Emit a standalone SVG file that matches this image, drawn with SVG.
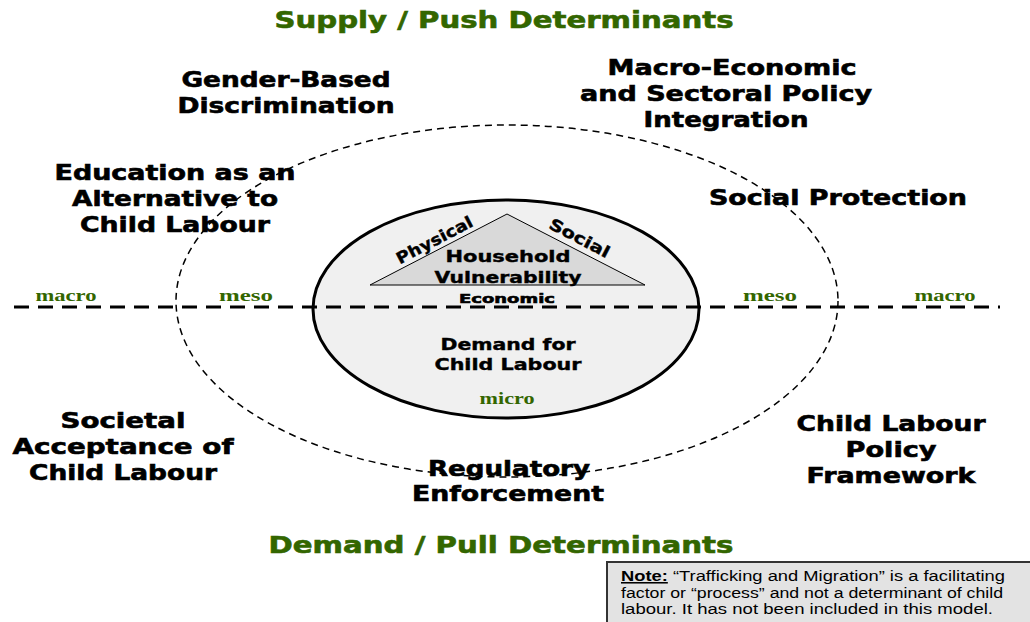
<svg xmlns="http://www.w3.org/2000/svg" width="1030" height="622" viewBox="0 0 1030 622">
<style>
.t{font-family:"DejaVu Sans","Liberation Sans",sans-serif;font-weight:bold;fill:#000;text-anchor:middle;stroke:#000;stroke-width:0.6}
.lbl{font-size:21px}
.title{font-size:23px;fill:#336600;stroke:#336600}
.inner{font-size:16px;stroke-width:0.4}
.lvl{font-family:"Liberation Serif","DejaVu Serif",serif;font-weight:bold;font-size:17px;fill:#336600;text-anchor:middle}
.note{font-family:"Liberation Sans",Arial,sans-serif;font-size:15.5px;fill:#000}
</style>
<rect width="1030" height="622" fill="#fff"/>
<g id="outer-ellipse">
<ellipse cx="507" cy="301" rx="331" ry="176" fill="none" stroke="#000" stroke-width="1.5" stroke-dasharray="7 5"/>
</g>
<g id="household">
<ellipse cx="506" cy="309" rx="193" ry="109" fill="#f0f0f0" stroke="#000" stroke-width="3"/>
<polygon points="370,285 507,214 645,285" fill="#d9d9d9" stroke="#000" stroke-width="1"/>
<text class="t inner" transform="translate(437,245) rotate(-27.5)" textLength="84" lengthAdjust="spacingAndGlyphs">Physical</text>
<text class="t inner" transform="translate(577,243) rotate(27.5)" textLength="66" lengthAdjust="spacingAndGlyphs">Social</text>
<text class="t inner" x="508" y="262" textLength="125" lengthAdjust="spacingAndGlyphs">Household</text>
<text class="t inner" x="508" y="283" textLength="147" lengthAdjust="spacingAndGlyphs">Vulnerability</text>
<text class="t" font-size="13" stroke-width="0.3" x="507" y="303" textLength="96" lengthAdjust="spacingAndGlyphs">Economic</text>
<text class="t inner" x="508" y="350" textLength="135" lengthAdjust="spacingAndGlyphs">Demand for</text>
<text class="t inner" x="508" y="370" textLength="147" lengthAdjust="spacingAndGlyphs">Child Labour</text>
</g>
<g id="connectors">
<line x1="14" y1="307" x2="1000" y2="307" stroke="#000" stroke-width="3" stroke-dasharray="15 9"/>
</g>
<g id="levels">
<text class="lvl" x="66" y="301" textLength="61" lengthAdjust="spacingAndGlyphs">macro</text>
<text class="lvl" x="246" y="301" textLength="54" lengthAdjust="spacingAndGlyphs">meso</text>
<text class="lvl" x="770" y="301" textLength="54" lengthAdjust="spacingAndGlyphs">meso</text>
<text class="lvl" x="945" y="301" textLength="61" lengthAdjust="spacingAndGlyphs">macro</text>
<text class="lvl" x="507" y="404" textLength="55" lengthAdjust="spacingAndGlyphs">micro</text>
</g>
<g id="titles">
<text class="t title" x="504" y="28" textLength="459" lengthAdjust="spacingAndGlyphs">Supply / Push Determinants</text>
<text class="t title" x="501" y="553" textLength="465" lengthAdjust="spacingAndGlyphs">Demand / Pull Determinants</text>
</g>
<g id="gender">
<text class="t lbl" x="286" y="87" textLength="209" lengthAdjust="spacingAndGlyphs">Gender-Based</text>
<text class="t lbl" x="286" y="113" textLength="217" lengthAdjust="spacingAndGlyphs">Discrimination</text>
</g>
<g id="macroeconomic">
<text class="t lbl" x="732" y="75" textLength="249" lengthAdjust="spacingAndGlyphs">Macro-Economic</text>
<text class="t lbl" x="726" y="101" textLength="292" lengthAdjust="spacingAndGlyphs">and Sectoral Policy</text>
<text class="t lbl" x="726" y="127" textLength="165" lengthAdjust="spacingAndGlyphs">Integration</text>
</g>
<g id="education">
<text class="t lbl" x="175" y="180" textLength="241" lengthAdjust="spacingAndGlyphs">Education as an</text>
<text class="t lbl" x="175" y="206" textLength="206" lengthAdjust="spacingAndGlyphs">Alternative to</text>
<text class="t lbl" x="175" y="232" textLength="190" lengthAdjust="spacingAndGlyphs">Child Labour</text>
</g>
<g id="social-protection">
<text class="t lbl" x="838" y="205" textLength="258" lengthAdjust="spacingAndGlyphs">Social Protection</text>
</g>
<g id="societal">
<text class="t lbl" x="123" y="428" textLength="125" lengthAdjust="spacingAndGlyphs">Societal</text>
<text class="t lbl" x="123" y="454" textLength="221" lengthAdjust="spacingAndGlyphs">Acceptance of</text>
<text class="t lbl" x="123" y="480" textLength="188" lengthAdjust="spacingAndGlyphs">Child Labour</text>
</g>
<g id="regulatory">
<text class="t lbl" x="509" y="476" textLength="162" lengthAdjust="spacingAndGlyphs">Regulatory</text>
<text class="t lbl" x="508" y="501" textLength="192" lengthAdjust="spacingAndGlyphs">Enforcement</text>
</g>
<g id="policy">
<text class="t lbl" x="891" y="431" textLength="189" lengthAdjust="spacingAndGlyphs">Child Labour</text>
<text class="t lbl" x="891" y="457" textLength="91" lengthAdjust="spacingAndGlyphs">Policy</text>
<text class="t lbl" x="891" y="483" textLength="169" lengthAdjust="spacingAndGlyphs">Framework</text>
</g>
<g id="note">
<rect x="607" y="562" width="430" height="70" fill="#e3e3e3" stroke="#333" stroke-width="2"/>
<text class="note" x="621" y="581" textLength="384" lengthAdjust="spacingAndGlyphs"><tspan font-weight="bold" text-decoration="underline">Note:</tspan> “Trafficking and Migration” is a facilitating</text>
<text class="note" x="621" y="598" textLength="382" lengthAdjust="spacingAndGlyphs">factor or “process” and not a determinant of child</text>
<text class="note" x="621" y="614" textLength="372" lengthAdjust="spacingAndGlyphs">labour.  It has not been included in this model.</text>
</g>
</svg>
